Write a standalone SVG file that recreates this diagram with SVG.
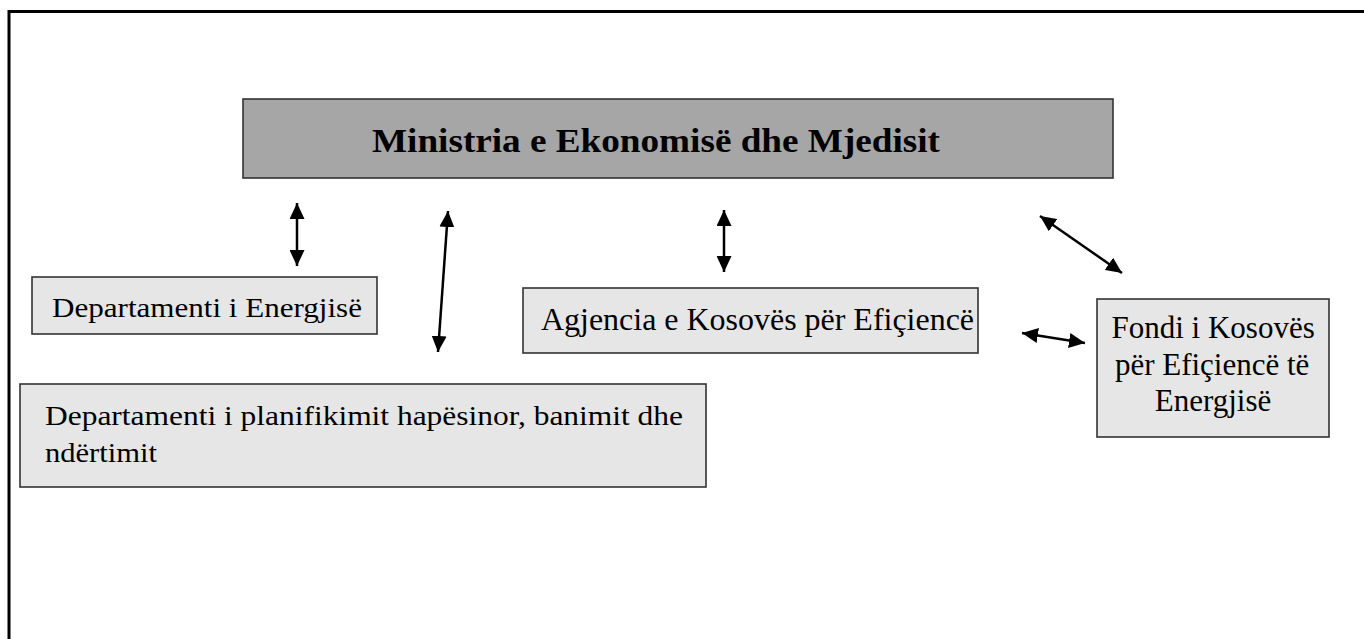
<svg xmlns="http://www.w3.org/2000/svg" width="1364" height="639" viewBox="0 0 1364 639">
<defs>
<style>
.frame{fill:none;stroke:#000;stroke-width:3}
.box{fill:#e6e6e6;stroke:#333;stroke-width:1.6}
.top{fill:#a6a6a6;stroke:#333;stroke-width:1.6}
.gar{font-family:"Liberation Serif","Times New Roman",serif;fill:#000}
.tnr{font-family:"Liberation Serif","Times New Roman",serif;font-size:31px;fill:#000}
.conn line{stroke:#000;stroke-width:2.5;marker-start:url(#ah);marker-end:url(#ah)}
</style>
<marker id="ah" markerUnits="userSpaceOnUse" markerWidth="17" markerHeight="15" refX="16" refY="7.5" orient="auto-start-reverse">
<path d="M0,0 L16,7.5 L0,15 z" fill="#000"/>
</marker>
</defs>
<rect width="1364" height="639" fill="#fff"/>
<path class="frame" d="M9,639 V11.5 H1364"/>

<g id="ministria">
<rect class="top" x="243" y="99" width="870" height="79"/>
<text class="gar" x="372" y="152" font-size="33" font-weight="bold" textLength="568" lengthAdjust="spacingAndGlyphs">Ministria e Ekonomisë dhe Mjedisit</text>
</g>

<g id="dep-energjise">
<rect class="box" x="32" y="277" width="345" height="57"/>
<text class="gar" x="52" y="317" font-size="27" textLength="310" lengthAdjust="spacingAndGlyphs">Departamenti i Energjisë</text>
</g>

<g id="agjencia">
<rect class="box" x="523" y="288" width="455" height="65"/>
<text class="tnr" x="541" y="330" textLength="433" lengthAdjust="spacingAndGlyphs">Agjencia e Kosovës për Efiçiencë</text>
</g>

<g id="fondi">
<rect class="box" x="1097" y="299" width="232" height="138"/>
<text class="tnr" text-anchor="middle">
<tspan x="1217" y="338">Fondi i Kosovës</tspan>
<tspan x="1216" y="375">për Efiçiencë të</tspan>
<tspan x="1213" y="411">Energjisë</tspan>
</text>
</g>

<g id="dep-planifikimit">
<rect class="box" x="20" y="384" width="686" height="103"/>
<text class="gar" font-size="27">
<tspan x="45" y="425" textLength="638" lengthAdjust="spacingAndGlyphs">Departamenti i planifikimit hapësinor, banimit dhe</tspan>
<tspan x="45" y="462" textLength="112" lengthAdjust="spacingAndGlyphs">ndërtimit</tspan>
</text>
</g>

<g id="connectors" class="conn">
<line x1="297" y1="203" x2="297" y2="266"/>
<line x1="448" y1="211" x2="438" y2="352"/>
<line x1="724" y1="210" x2="724" y2="272"/>
<line x1="1040" y1="216" x2="1122" y2="273"/>
<line x1="1022" y1="333" x2="1085" y2="343"/>
</g>
</svg>
